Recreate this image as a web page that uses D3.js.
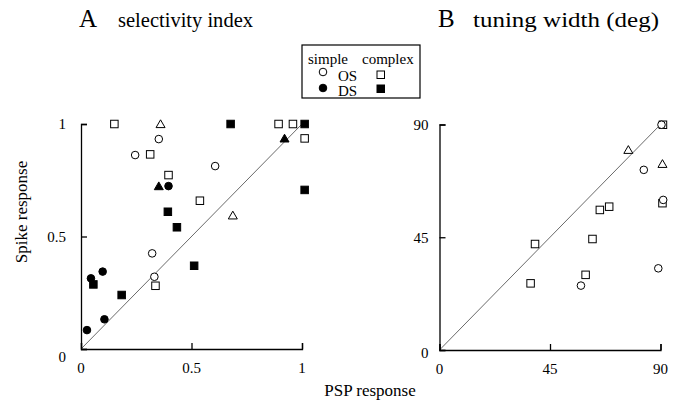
<!DOCTYPE html>
<html>
<head>
<meta charset="utf-8">
<script src="https://cdn.jsdelivr.net/npm/d3@7"></script>
<style>
  html, body { margin: 0; padding: 0; background: #fff; }
  svg { display: block; }
  text { font-family: "Liberation Serif", "Times New Roman", serif; fill: #000; }
</style>
</head>
<body>
<svg id="chart" width="673" height="402"></svg>
<script>
// ---------- Data: panel A (selectivity index) ----------
const aSimpleOS_x  = [0.245, 0.352, 0.607, 0.322, 0.332];
const aSimpleOS_y  = [0.862, 0.933, 0.813, 0.425, 0.321];
const aSimpleDS_x  = [0.396, 0.045, 0.098, 0.106, 0.027];
const aSimpleDS_y  = [0.724, 0.314, 0.344, 0.132, 0.084];
const aComplexOS_x = [0.151, 0.313, 0.396, 0.538, 0.337, 0.894, 0.959, 1.012];
const aComplexOS_y = [1.0,   0.865, 0.773, 0.659, 0.281, 1.0,   1.0,   0.936];
const aComplexDS_x = [0.677, 1.012, 1.012, 0.393, 0.434, 0.512, 0.184, 0.056];
const aComplexDS_y = [1.0,   1.0,   0.707, 0.610, 0.541, 0.370, 0.240, 0.287];
const aTriOpen_x   = [0.360, 0.687];
const aTriOpen_y   = [1.0,   0.594];
const aTriFill_x   = [0.352, 0.921];
const aTriFill_y   = [0.724, 0.936];

// ---------- Data: panel B (tuning width, deg) ----------
const bComplexOS_x = [91.0, 90.8, 65.3, 69.1, 62.3, 38.9, 37.1, 59.5];
const bComplexOS_y = [89.9, 58.6, 55.9, 57.2, 44.3, 42.3, 26.6, 30.0];
const bSimpleOS_x  = [90.4, 83.2, 91.1, 89.1, 57.6];
const bSimpleOS_y  = [89.9, 71.9, 59.9, 32.6, 25.7];
const bTriOpen_x   = [76.9, 90.8];
const bTriOpen_y   = [79.9, 74.3];

// ---------- Tick labels ----------
const aTicks = [0, 0.5, 1];
const aTickLabels = ["0", "0.5", "1"];
const bTicks = [0, 45, 90];
const bTickLabels = ["0", "45", "90"];

const svg = d3.select("#chart");
const FONT = 15;

function zip(xs, ys) { return xs.map((x, i) => ({x: x, y: ys[i]})); }

function panel(opts) {
  const x = d3.scaleLinear().domain(opts.domain).range([opts.x0, opts.x1]);
  const y = d3.scaleLinear().domain(opts.domain).range([opts.y0, opts.y1]);
  const g = svg.append("g");

  // diagonal reference line
  g.append("line")
    .attr("x1", x(opts.domain[0])).attr("y1", y(opts.domain[0]))
    .attr("x2", x(opts.domain[1])).attr("y2", y(opts.domain[1]))
    .attr("stroke", "#444").attr("stroke-width", 0.8);

  // axes with inward ticks
  const xAxis = d3.axisBottom(x).tickValues(opts.ticks).tickSize(-6).tickFormat("");
  const yAxis = d3.axisLeft(y).tickValues(opts.ticks).tickSize(-6).tickFormat("");
  const gx = g.append("g").attr("transform", `translate(0,${opts.y0})`).call(xAxis);
  const gy = g.append("g").attr("transform", `translate(${opts.x0},0)`).call(yAxis);
  [gx, gy].forEach(a => {
    a.select(".domain").attr("stroke", "#000").attr("stroke-width", 1.3);
    a.selectAll(".tick line").attr("stroke", "#000").attr("stroke-width", 1.3);
  });

  // x tick labels
  g.selectAll(".xl").data(opts.ticks).enter().append("text")
    .attr("x", d => x(d)).attr("y", opts.y0 + 24)
    .attr("text-anchor", "middle").attr("font-size", FONT)
    .text((d, i) => opts.labels[i]);
  // y tick labels
  g.selectAll(".yl").data(opts.ticks).enter().append("text")
    .attr("x", opts.x0 - opts.ylabGap)
    .attr("y", d => y(d) + (d === opts.domain[0] ? opts.zeroShift : 0))
    .attr("dy", "0.35em")
    .attr("text-anchor", "end").attr("font-size", FONT)
    .text((d, i) => opts.labels[i]);

  const S = 7.5, R = 3.8, T = 9;
  const tri = d3.symbol().type(d3.symbolTriangle).size(T * T * 0.433 * 1.0);

  function circles(data, filled) {
    g.selectAll(null).data(data).enter().append("circle")
      .attr("cx", d => x(d.x)).attr("cy", d => y(d.y)).attr("r", R)
      .attr("fill", filled ? "#000" : "#fff").attr("stroke", "#000").attr("stroke-width", 1);
  }
  function squares(data, filled) {
    g.selectAll(null).data(data).enter().append("rect")
      .attr("x", d => x(d.x) - S / 2).attr("y", d => y(d.y) - S / 2)
      .attr("width", S).attr("height", S)
      .attr("fill", filled ? "#000" : "#fff").attr("stroke", "#000").attr("stroke-width", 1);
  }
  function triangles(data, filled) {
    g.selectAll(null).data(data).enter().append("path")
      .attr("d", tri)
      .attr("transform", d => `translate(${x(d.x)},${y(d.y) + 1})`)
      .attr("fill", filled ? "#000" : "#fff").attr("stroke", "#000").attr("stroke-width", 1);
  }
  return {circles, squares, triangles};
}

// Panel A
const pA = panel({domain: [0, 1], ticks: aTicks, labels: aTickLabels,
  x0: 81, x1: 302, y0: 349, y1: 124, ylabGap: 15, zeroShift: 8});
pA.squares(zip(aComplexOS_x, aComplexOS_y), false);
pA.squares(zip(aComplexDS_x, aComplexDS_y), true);
pA.circles(zip(aSimpleOS_x, aSimpleOS_y), false);
pA.circles(zip(aSimpleDS_x, aSimpleDS_y), true);
pA.triangles(zip(aTriOpen_x, aTriOpen_y), false);
pA.triangles(zip(aTriFill_x, aTriFill_y), true);

// Panel B
const pB = panel({domain: [0, 90], ticks: bTicks, labels: bTickLabels,
  x0: 439.5, x1: 660.5, y0: 350, y1: 124.5, ylabGap: 11, zeroShift: 3});
pB.squares(zip(bComplexOS_x, bComplexOS_y), false);
pB.circles(zip(bSimpleOS_x, bSimpleOS_y), false);
pB.triangles(zip(bTriOpen_x, bTriOpen_y), false);

// Titles
svg.append("text").attr("x", 79).attr("y", 27).attr("font-size", 25).text("A");
svg.append("text").attr("x", 118).attr("y", 27).attr("font-size", 20)
  .attr("textLength", 135).attr("lengthAdjust", "spacingAndGlyphs").text("selectivity index");
svg.append("text").attr("x", 438).attr("y", 27).attr("font-size", 22)
  .text("B").attr("font-size", 25);
svg.append("text").attr("x", 473).attr("y", 27).attr("font-size", 22)
  .attr("textLength", 186).attr("lengthAdjust", "spacingAndGlyphs").text("tuning width (deg)");

// Axis titles
svg.append("text").attr("x", 370).attr("y", 396).attr("text-anchor", "middle")
  .attr("font-size", 17).text("PSP response");
svg.append("text").attr("transform", "translate(27,212) rotate(-90)")
  .attr("text-anchor", "middle").attr("font-size", 17).text("Spike response");

// Legend
const leg = svg.append("g");
leg.append("rect").attr("x", 302).attr("y", 45).attr("width", 118).attr("height", 53)
  .attr("fill", "#fff").attr("stroke", "#000").attr("stroke-width", 1.2);
leg.append("text").attr("x", 308).attr("y", 64).attr("font-size", 15).text("simple");
leg.append("text").attr("x", 362).attr("y", 64).attr("font-size", 15).text("complex");
leg.append("text").attr("x", 338).attr("y", 81).attr("font-size", 15).text("OS");
leg.append("text").attr("x", 338).attr("y", 96).attr("font-size", 15).text("DS");
leg.append("circle").attr("cx", 323).attr("cy", 72).attr("r", 3.8)
  .attr("fill", "#fff").attr("stroke", "#000");
leg.append("circle").attr("cx", 323).attr("cy", 88).attr("r", 3.8)
  .attr("fill", "#000").attr("stroke", "#000");
leg.append("rect").attr("x", 377).attr("y", 71).attr("width", 7.5).attr("height", 7.5)
  .attr("fill", "#fff").attr("stroke", "#000");
leg.append("rect").attr("x", 377).attr("y", 85).attr("width", 7.5).attr("height", 7.5)
  .attr("fill", "#000").attr("stroke", "#000");
</script>
</body>
</html>
